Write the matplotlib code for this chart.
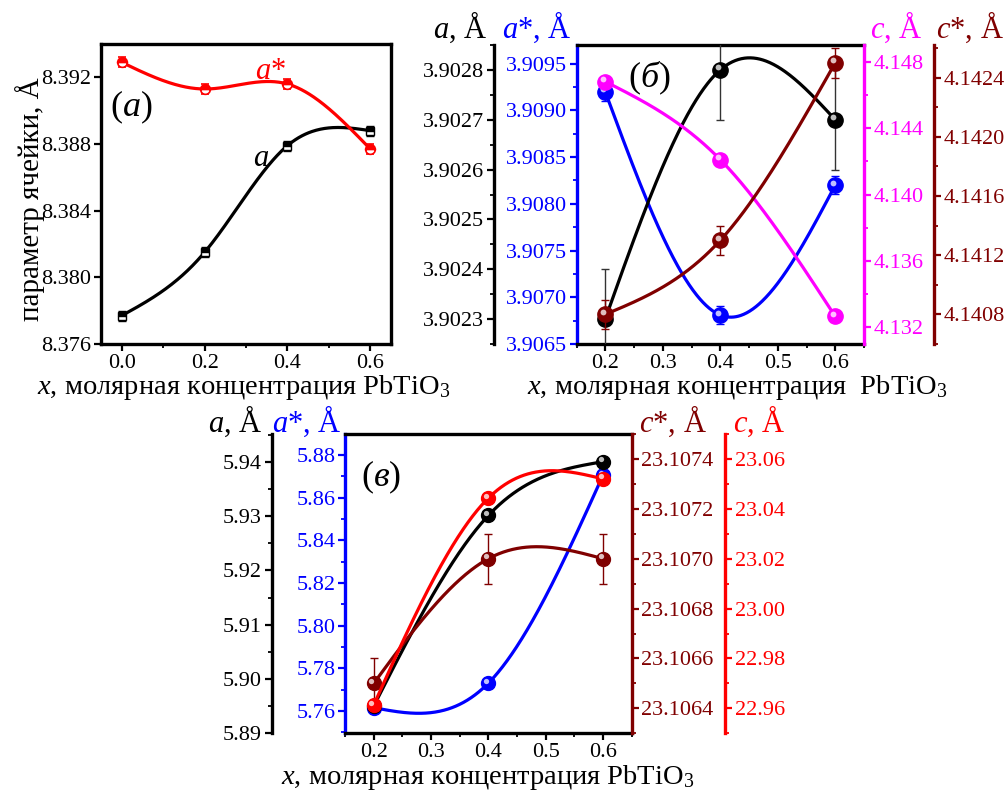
import numpy as np
import matplotlib
matplotlib.use('Agg')
import matplotlib.pyplot as plt
from matplotlib.ticker import MultipleLocator, FormatStrFormatter
from matplotlib.transforms import offset_copy

# ---- data ----
# (a) cubic phase
x_a = [0.0, 0.2, 0.4, 0.6]
a_a = [8.3777, 8.3815, 8.3879, 8.3888]
a_a_err = [0.0003, 0.0003, 0.0003, 0.0003]
astar_a = [8.3929, 8.3913, 8.3916, 8.3877]
astar_a_err = [0.0003, 0.0003, 0.0003, 0.0003]

# (b) and (c) share x
x_bc = [0.2, 0.4, 0.6]

# (b)
a_b = [3.90230, 3.90280, 3.90270]
a_b_err = [0.0001, 0.0001, 0.0001]
astar_b = [3.90920, 3.90681, 3.90820]
astar_b_err = [0.0001, 0.0001, 0.0001]
c_b = [4.14680, 4.14210, 4.13266]
c_b_err = [0.0002, 0.0002, 0.0002]
cstar_b = [4.14080, 4.14130, 4.14250]
cstar_b_err = [0.0001, 0.0001, 0.0001]

# (c)
a_c = [5.8950, 5.9301, 5.9400]
astar_c = [5.7615, 5.7730, 5.8705]
cstar_c = [23.10650, 23.10700, 23.10700]
cstar_c_err = [0.0001, 0.0001, 0.0001]
c_c = [22.9613, 23.0443, 23.0520]

BLUE = '#0000ff'
MAG = '#ff00ff'
MAROON = '#800000'
RED = '#ff0000'
SERIF = 'Liberation Serif'

plt.rcParams['font.family'] = [SERIF, 'DejaVu Serif']
plt.rcParams['mathtext.fontset'] = 'custom'
plt.rcParams['mathtext.rm'] = SERIF
plt.rcParams['mathtext.it'] = SERIF + ':italic'
plt.rcParams['font.size'] = 16

W, H = 1006, 791
fig = plt.figure(figsize=(W / 100, H / 100), dpi=100)
TICK_FS = 16


def box(x0, y0, x1, y1):
    # pixel box -> figure fraction
    return [x0 / W, 1 - y1 / H, (x1 - x0) / W, (y1 - y0) / H]


def ftext(x, y, s, **kw):
    fig.text(x / W, 1 - y / H, s, family=SERIF, **kw)


def natural_spline(x, y, n=300):
    x = np.asarray(x, float)
    y = np.asarray(y, float)
    k = len(x)
    h = np.diff(x)
    A = np.zeros((k, k))
    r = np.zeros(k)
    A[0, 0] = A[-1, -1] = 1
    for i in range(1, k - 1):
        A[i, i - 1] = h[i - 1]
        A[i, i] = 2 * (h[i - 1] + h[i])
        A[i, i + 1] = h[i]
        r[i] = 6 * ((y[i + 1] - y[i]) / h[i] - (y[i] - y[i - 1]) / h[i - 1])
    M = np.linalg.solve(A, r)
    xs = np.linspace(x[0], x[-1], n)
    idx = np.clip(np.searchsorted(x, xs) - 1, 0, k - 2)
    x0, x1 = x[idx], x[idx + 1]
    hh = x1 - x0
    ys = (M[idx] * (x1 - xs) ** 3 / (6 * hh) + M[idx + 1] * (xs - x0) ** 3 / (6 * hh)
          + (y[idx] / hh - M[idx] * hh / 6) * (x1 - xs)
          + (y[idx + 1] / hh - M[idx + 1] * hh / 6) * (xs - x0))
    return xs, ys


def lighten(c, f=0.6):
    rgb = np.array(matplotlib.colors.to_rgb(c))
    return tuple(rgb + (1 - rgb) * f)


def balls(ax, x, y, color, ms=11):
    ax.plot(x, y, 'o', ms=ms, color=color, mec=color, zorder=5, clip_on=False)
    hl = offset_copy(ax.transData, fig=fig, x=-1.8, y=1.8, units='points')
    ax.plot(x, y, 'o', ms=ms * 0.38, color=lighten(color, 0.75), mec='none',
            transform=hl, zorder=6, clip_on=False)


def curve(ax, x, y, color, lw=2.3):
    xs, ys = natural_spline(x, y)
    ax.plot(xs, ys, '-', color=color, lw=lw, zorder=3)


def style_y(ax, color, major, minor, fmt, side='left'):
    ax.yaxis.set_major_locator(MultipleLocator(major))
    ax.yaxis.set_minor_locator(MultipleLocator(minor))
    ax.yaxis.set_major_formatter(FormatStrFormatter(fmt))
    ax.tick_params(axis='y', which='both', direction='out', colors=color,
                   left=(side == 'left'), right=(side == 'right'),
                   labelleft=(side == 'left'), labelright=(side == 'right'),
                   labelfontfamily=SERIF)
    ax.tick_params(axis='y', which='major', length=5, width=1.6, labelsize=TICK_FS, pad=2)
    ax.tick_params(axis='y', which='minor', length=3, width=1.3)


def style_x(ax, major, minor):
    ax.xaxis.set_major_locator(MultipleLocator(major))
    ax.xaxis.set_minor_locator(MultipleLocator(minor))
    ax.xaxis.set_major_formatter(FormatStrFormatter('%.1f'))
    ax.tick_params(axis='x', which='major', direction='out', length=5, width=1.6,
                   labelsize=TICK_FS, pad=2, top=False, labelfontfamily=SERIF)
    ax.tick_params(axis='x', which='minor', direction='out', length=3, width=1.3, top=False)


def extra_axis(host, side, pos, color):
    t = host.twinx()
    for s in t.spines.values():
        s.set_visible(False)
    sp = t.spines[side]
    sp.set_visible(True)
    sp.set_position(('axes', pos))
    sp.set_color(color)
    sp.set_linewidth(2.4)
    if side == 'left':
        t.yaxis.tick_left()
    else:
        t.yaxis.tick_right()
    return t


LW_SP = 2.4
xlabel = r'$x$, молярная концентрация PbTiO$_3$'

# ================= (a) =================
axA = fig.add_axes(box(101, 44, 391, 344))
for s in axA.spines.values():
    s.set_linewidth(LW_SP)
axA.set_xlim(-0.05, 0.65)
axA.set_ylim(8.376, 8.394)
curve(axA, x_a, a_a, 'black')
curve(axA, x_a, astar_a, RED)
axA.errorbar(x_a, a_a, yerr=a_a_err, fmt='s', ms=6, color='black', mfc='black',
             mfcalt='white', fillstyle='top', mew=1, ecolor='black', elinewidth=1,
             capsize=3, capthick=1, zorder=5)
axA.errorbar(x_a, astar_a, yerr=astar_a_err, fmt='o', ms=7, color=RED, mfc=RED,
             mfcalt='white', fillstyle='top', mew=1.2, ecolor=RED, elinewidth=1,
             capsize=3, capthick=1, zorder=5)
axA.yaxis.set_major_locator(MultipleLocator(0.004))
axA.yaxis.set_major_formatter(FormatStrFormatter('%.3f'))
axA.tick_params(axis='y', which='major', direction='out', length=5, width=1.6,
                labelsize=TICK_FS, pad=2, labelfontfamily=SERIF)
style_x(axA, 0.2, 0.1)
ftext(30, 199, 'параметр ячейки, Å', rotation=90, ha='center', va='center', fontsize=21)
ftext(131, 107, r'($a$)', ha='center', va='center', fontsize=26)
ftext(271, 79, r'$a$*', ha='center', va='baseline', fontsize=22, color=RED)
ftext(261, 166, r'$a$', ha='center', va='baseline', fontsize=22, color='black')
ftext(244, 394, xlabel, ha='center', va='baseline', fontsize=20.5)

# ================= (b) =================
axB = fig.add_axes(box(576.5, 45, 864, 344))
axB.set_xlim(0.15, 0.65)
for s in axB.spines.values():
    s.set_linewidth(LW_SP)
axB.spines['left'].set_color(BLUE)
axB.spines['right'].set_visible(False)
axB.set_ylim(3.9065, 3.9097)
style_y(axB, BLUE, 0.0005, 0.00025, '%.4f', 'left')
style_x(axB, 0.1, 0.05)

bA = extra_axis(axB, 'left', -0.287, 'black')
bA.set_ylim(3.90225, 3.90285)
style_y(bA, 'black', 0.0001, 0.00005, '%.4f', 'left')

bC = extra_axis(axB, 'right', 1.0, MAG)
bC.set_ylim(4.131, 4.149)
style_y(bC, MAG, 0.004, 0.002, '%.3f', 'right')

bCs = extra_axis(axB, 'right', 1.242, MAROON)
bCs.set_ylim(4.1406, 4.14262)
style_y(bCs, MAROON, 0.0004, 0.0002, '%.4f', 'right')

curve(axB, x_bc, astar_b, BLUE)
axB.errorbar(x_bc, astar_b, yerr=astar_b_err, fmt='none', ecolor=BLUE, elinewidth=1,
             capsize=3, capthick=1)
balls(axB, x_bc, astar_b, BLUE)

curve(bC, x_bc, c_b, MAG)
bC.errorbar(x_bc, c_b, yerr=c_b_err, fmt='none', ecolor=MAG, elinewidth=1,
            capsize=3, capthick=1)
balls(bC, x_bc, c_b, MAG)

curve(bCs, x_bc, cstar_b, MAROON)
bCs.errorbar(x_bc, cstar_b, yerr=cstar_b_err, fmt='none', ecolor=MAROON, elinewidth=1,
             capsize=3, capthick=1)
balls(bCs, x_bc, cstar_b, MAROON)

curve(bA, x_bc, a_b, 'black')
bA.errorbar(x_bc, a_b, yerr=a_b_err, fmt='none', ecolor='#333333', elinewidth=1,
            capsize=3, capthick=1)
balls(bA, x_bc, a_b, 'black')

ftext(649, 78, r'($б$)', ha='center', va='center', fontsize=26)
ftext(460, 38, r'$a$, Å', ha='center', va='baseline', fontsize=22, color='black')
ftext(537, 38, r'$a$*, Å', ha='center', va='baseline', fontsize=22, color=BLUE)
ftext(896, 38, r'$c$, Å', ha='center', va='baseline', fontsize=22, color=MAG)
ftext(970, 38, r'$c$*, Å', ha='center', va='baseline', fontsize=22, color=MAROON)
ftext(737, 394, r'$x$, молярная концентрация  PbTiO$_3$', ha='center', va='baseline',
      fontsize=20.5)

# ================= (c) =================
axC = fig.add_axes(box(345, 434, 631.7, 733.3))
axC.set_xlim(0.15, 0.65)
for s in axC.spines.values():
    s.set_linewidth(LW_SP)
axC.spines['left'].set_color(BLUE)
axC.spines['right'].set_visible(False)
axC.set_ylim(5.7495, 5.8898)
style_y(axC, BLUE, 0.02, 0.01, '%.2f', 'left')
style_x(axC, 0.1, 0.05)

cA = extra_axis(axC, 'left', -0.2557, 'black')
cA.set_ylim(5.89, 5.9451)
style_y(cA, 'black', 0.01, 0.005, '%.2f', 'left')

cCs = extra_axis(axC, 'right', 1.0, MAROON)
cCs.set_ylim(23.1063, 23.1075)
style_y(cCs, MAROON, 0.0002, 0.0001, '%.4f', 'right')

cC = extra_axis(axC, 'right', 1.3254, RED)
cC.set_ylim(22.95, 23.07)
style_y(cC, RED, 0.02, 0.01, '%.2f', 'right')

curve(axC, x_bc, astar_c, BLUE)
balls(axC, x_bc, astar_c, BLUE, ms=10)

curve(cA, x_bc, a_c, 'black')
balls(cA, x_bc, a_c, 'black', ms=10)

curve(cCs, x_bc, cstar_c, MAROON)
cCs.errorbar(x_bc, cstar_c, yerr=cstar_c_err, fmt='none', ecolor=MAROON, elinewidth=1,
             capsize=3, capthick=1)
balls(cCs, x_bc, cstar_c, MAROON, ms=10)

curve(cC, x_bc, c_c, RED)
balls(cC, x_bc, c_c, RED, ms=10)

ftext(381, 477, r'($в$)', ha='center', va='center', fontsize=26)
ftext(235, 432, r'$a$, Å', ha='center', va='baseline', fontsize=22, color='black')
ftext(307, 432, r'$a$*, Å', ha='center', va='baseline', fontsize=22, color=BLUE)
ftext(673, 432, r'$c$*, Å', ha='center', va='baseline', fontsize=22, color=MAROON)
ftext(759, 432, r'$c$, Å', ha='center', va='baseline', fontsize=22, color=RED)
ftext(488, 784, xlabel, ha='center', va='baseline', fontsize=20.5)

fig.savefig('out.png', dpi=100, facecolor='white')
